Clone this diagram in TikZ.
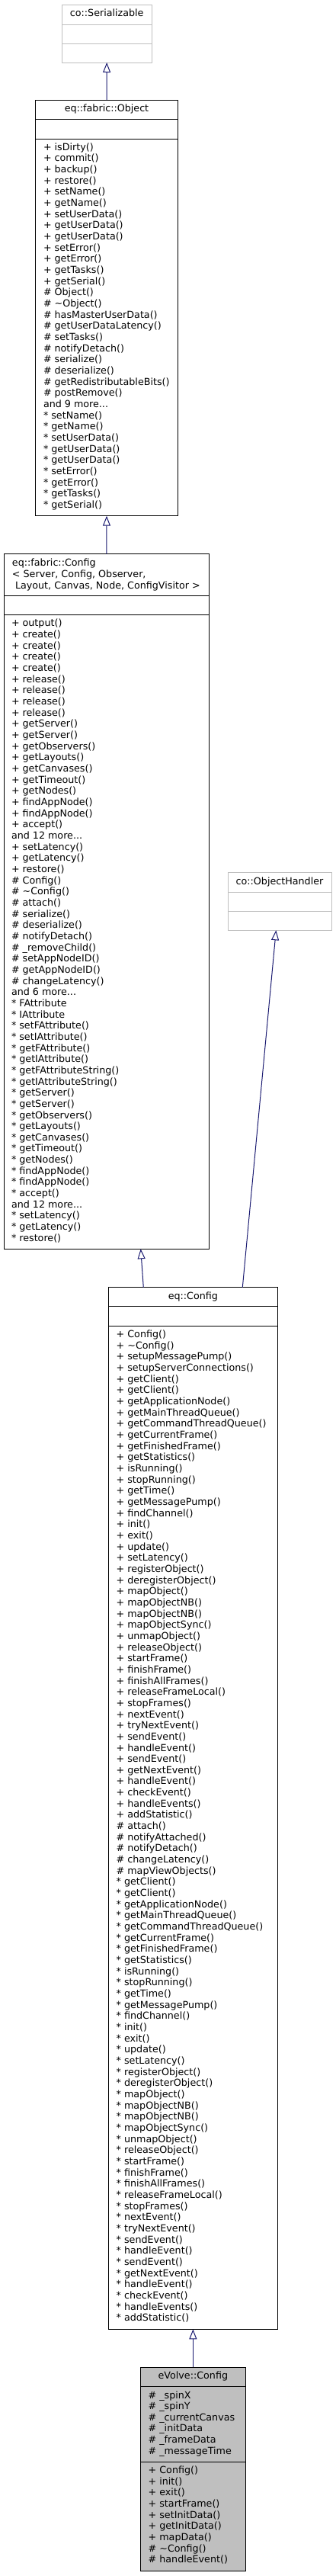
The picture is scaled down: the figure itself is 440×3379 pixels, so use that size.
\documentclass[tikz,border=0pt]{standalone}
\usepackage{fontspec}
\setmainfont{DejaVu Sans}
\usetikzlibrary{arrows.meta,calc}
\definecolor{grey75}{HTML}{BFBFBF}
\definecolor{midblue}{HTML}{191970}
\newcommand\umlfont{\fontsize{12.7}{14.66}\selectfont}
\newcommand\tl{\textasciitilde{}}
\newcommand\lst[1]{\begin{tabular}{@{}l@{}}#1\end{tabular}}
\tikzset{
  cls/.style={draw=black, line width=1pt, inner sep=0pt, outer sep=0pt, anchor=north west},
  ext/.style={cls, draw=grey75},
  doc/.style={cls, fill=grey75},
  sepline/.style={line width=1pt},
  txt/.style={inner sep=0pt, outer sep=0pt, anchor=north west, font=\umlfont},
  ttl/.style={inner sep=0pt, outer sep=0pt, anchor=center, font=\umlfont},
  inh/.style={draw=midblue, line width=1pt, -{Triangle[length=13pt, width=10pt, fill=white]}},
}
% #1 name, #2 style, #3 x1, #4 y1, #5 x2, #6 y2, #7 sep1, #8 sep2, #9 sep colour
\newcommand\umlclass[9]{%
  \node[#2, minimum width={#5-#3}, minimum height={#6-#4}] (#1) at (#3,#4) {};
  \draw[sepline, draw=#9] (#3,#7) -- (#5,#7) (#3,#8) -- (#5,#8);
}
\begin{document}
\begin{tikzpicture}[x=1pt,y=-1pt]
\useasboundingbox[fill=white] (0,0) rectangle (440,3379);

% co::Serializable
\umlclass{ser}{ext}{81}{6}{199.3}{82}{32}{57}{grey75}
\node[ttl] (sert) at (140.2,19) {\strut co::Serializable};

% eq::fabric::Object
\umlclass{obj}{cls}{46.7}{131}{233.3}{676.7}{156}{182}{black}
\node[ttl] (objt) at (140,143.5) {\strut eq::fabric::Object};
\node[txt] (objm) at (57,187) {\lst{+ isDirty()\\
+ commit()\\
+ backup()\\
+ restore()\\
+ setName()\\
+ getName()\\
+ setUserData()\\
+ getUserData()\\
+ getUserData()\\
+ setError()\\
+ getError()\\
+ getTasks()\\
+ getSerial()\\
\# Object()\\
\# \tl Object()\\
\# hasMasterUserData()\\
\# getUserDataLatency()\\
\# setTasks()\\
\# notifyDetach()\\
\# serialize()\\
\# deserialize()\\
\# getRedistributableBits()\\
\# postRemove()\\
and 9 more...\\
{*} setName()\\
{*} getName()\\
{*} setUserData()\\
{*} getUserData()\\
{*} getUserData()\\
{*} setError()\\
{*} getError()\\
{*} getTasks()\\
{*} getSerial()}};

% eq::fabric::Config
\umlclass{fab}{cls}{5}{726.7}{274.7}{1638.3}{781}{806.7}{black}
\node[txt] (fabt) at (16,732.5) {\lst{eq::fabric::Config\\
< Server, Config, Observer,\\
\ Layout, Canvas, Node, ConfigVisitor >}};
\node[txt] (fabm) at (15,811.7) {\lst{+ output()\\
+ create()\\
+ create()\\
+ create()\\
+ create()\\
+ release()\\
+ release()\\
+ release()\\
+ release()\\
+ getServer()\\
+ getServer()\\
+ getObservers()\\
+ getLayouts()\\
+ getCanvases()\\
+ getTimeout()\\
+ getNodes()\\
+ findAppNode()\\
+ findAppNode()\\
+ accept()\\
and 12 more...\\
+ setLatency()\\
+ getLatency()\\
+ restore()\\
\# Config()\\
\# \tl Config()\\
\# attach()\\
\# serialize()\\
\# deserialize()\\
\# notifyDetach()\\
\# \_removeChild()\\
\# setAppNodeID()\\
\# getAppNodeID()\\
\# changeLatency()\\
and 6 more...\\
{*} FAttribute\\
{*} IAttribute\\
{*} setFAttribute()\\
{*} setIAttribute()\\
{*} getFAttribute()\\
{*} getIAttribute()\\
{*} getFAttributeString()\\
{*} getIAttributeString()\\
{*} getServer()\\
{*} getServer()\\
{*} getObservers()\\
{*} getLayouts()\\
{*} getCanvases()\\
{*} getTimeout()\\
{*} getNodes()\\
{*} findAppNode()\\
{*} findAppNode()\\
{*} accept()\\
and 12 more...\\
{*} setLatency()\\
{*} getLatency()\\
{*} restore()}};

% co::ObjectHandler
\umlclass{oh}{ext}{299}{1144.3}{435}{1220.3}{1170.3}{1195.7}{grey75}
\node[ttl] (oht) at (367,1157.3) {\strut co::ObjectHandler};

% eq::Config
\umlclass{eqc}{cls}{142.7}{1688.7}{364}{3055.3}{1713.7}{1739.3}{black}
\node[ttl] (eqct) at (253.35,1701.2) {\strut eq::Config};
\node[txt] (eqcm) at (152.7,1744.3) {\lst{+ Config()\\
+ \tl Config()\\
+ setupMessagePump()\\
+ setupServerConnections()\\
+ getClient()\\
+ getClient()\\
+ getApplicationNode()\\
+ getMainThreadQueue()\\
+ getCommandThreadQueue()\\
+ getCurrentFrame()\\
+ getFinishedFrame()\\
+ getStatistics()\\
+ isRunning()\\
+ stopRunning()\\
+ getTime()\\
+ getMessagePump()\\
+ findChannel()\\
+ init()\\
+ exit()\\
+ update()\\
+ setLatency()\\
+ registerObject()\\
+ deregisterObject()\\
+ mapObject()\\
+ mapObjectNB()\\
+ mapObjectNB()\\
+ mapObjectSync()\\
+ unmapObject()\\
+ releaseObject()\\
+ startFrame()\\
+ finishFrame()\\
+ finishAllFrames()\\
+ releaseFrameLocal()\\
+ stopFrames()\\
+ nextEvent()\\
+ tryNextEvent()\\
+ sendEvent()\\
+ handleEvent()\\
+ sendEvent()\\
+ getNextEvent()\\
+ handleEvent()\\
+ checkEvent()\\
+ handleEvents()\\
+ addStatistic()\\
\# attach()\\
\# notifyAttached()\\
\# notifyDetach()\\
\# changeLatency()\\
\# mapViewObjects()\\
{*} getClient()\\
{*} getClient()\\
{*} getApplicationNode()\\
{*} getMainThreadQueue()\\
{*} getCommandThreadQueue()\\
{*} getCurrentFrame()\\
{*} getFinishedFrame()\\
{*} getStatistics()\\
{*} isRunning()\\
{*} stopRunning()\\
{*} getTime()\\
{*} getMessagePump()\\
{*} findChannel()\\
{*} init()\\
{*} exit()\\
{*} update()\\
{*} setLatency()\\
{*} registerObject()\\
{*} deregisterObject()\\
{*} mapObject()\\
{*} mapObjectNB()\\
{*} mapObjectNB()\\
{*} mapObjectSync()\\
{*} unmapObject()\\
{*} releaseObject()\\
{*} startFrame()\\
{*} finishFrame()\\
{*} finishAllFrames()\\
{*} releaseFrameLocal()\\
{*} stopFrames()\\
{*} nextEvent()\\
{*} tryNextEvent()\\
{*} sendEvent()\\
{*} handleEvent()\\
{*} sendEvent()\\
{*} getNextEvent()\\
{*} handleEvent()\\
{*} checkEvent()\\
{*} handleEvents()\\
{*} addStatistic()}};

% eVolve::Config
\umlclass{evc}{doc}{184.7}{3105}{322}{3372.3}{3130.7}{3229.3}{black}
\node[ttl] (evct) at (253.35,3118) {\strut eVolve::Config};
\node[txt] (evca) at (194.7,3135.7) {\lst{\# \_spinX\\
\# \_spinY\\
\# \_currentCanvas\\
\# \_initData\\
\# \_frameData\\
\# \_messageTime}};
\node[txt] (evcm) at (194.7,3234.3) {\lst{+ Config()\\
+ init()\\
+ exit()\\
+ startFrame()\\
+ setInitData()\\
+ getInitData()\\
+ mapData()\\
\# \tl Config()\\
\# handleEvent()}};

% inheritance connectors
\draw[inh] (obj.north) -- (ser.south);
\draw[inh] (fab.north) -- (obj.south);
\draw[inh] ($(eqc.north west)+(45.6,0)$) -- ($(fab.south west)+(179.7,0)$);
\draw[inh] ($(eqc.north west)+(175.6,0)$) -- ($(oh.south west)+(63.3,0)$);
\draw[inh] (evc.north) -- (eqc.south);
\end{tikzpicture}
\end{document}
